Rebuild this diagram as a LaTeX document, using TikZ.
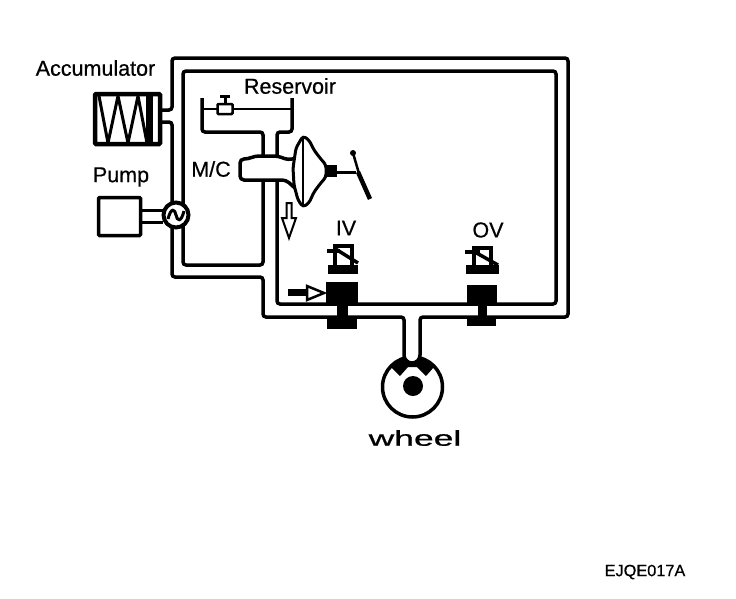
\documentclass[tikz,border=0pt]{standalone}
\usepackage{fontspec}
\newfontfamily\labelfont{Liberation Sans}[AutoFakeBold=0.6]
\usetikzlibrary{arrows.meta,positioning}

\begin{document}
\begin{tikzpicture}[
    x=1pt,
    y=-1pt,
    every node/.style={font=\fontsize{21.5}{25}\labelfont\bfseries, inner sep=0pt},
    pipe/.style={
        line width=3.5pt,
        rounded corners=3pt
    },
    casing/.style={
        rectangle,
        draw=black,
        fill=white,
        line width=3.5pt,
        rounded corners=1pt
    },
    solidpart/.style={
        fill=black,
        draw=black,
        line width=1pt
    }
]
\useasboundingbox (0,0) rectangle (736,598);

% hydraulic lines
\draw[pipe] (162,110) -- (172,110) -- (172,58) -- (568,58) -- (568,317) -- (420,317) -- (420,345);
\draw[pipe] (162,122) -- (172,122) -- (172,205);
\draw[pipe] (172,225) -- (172,277) -- (263,277) -- (263,317) -- (404,317) -- (404,345);
\draw[pipe] (183,205) -- (183,71) -- (556,71) -- (556,304) -- (277,304) -- (277,180);
\draw[pipe] (183,225) -- (183,265) -- (263,265) -- (263,180);

% accumulator
\node[casing, line width=4.5pt, minimum width=65pt, minimum height=50pt] (accum) at (127.5,119) {};
\draw[line width=3pt, line join=bevel] (99,96) -- (108,143) -- (118,96) -- (128,143) -- (138,96) -- (147,143);
\fill (146,94) rectangle (153,144);
\node (accumtext) at (95.5,68) {Accumulator};

% pump
\node[casing, minimum width=42pt, minimum height=38pt] (pump) at (119.5,216.5) {};
\draw[line width=3pt] (pump.east |- 0,210) -- (163,210);
\draw[line width=3pt] (pump.east |- 0,222) -- (163,222);
\node[circle, draw=black, fill=white, line width=4pt, minimum size=25pt] (motor) at (176,215) {};
\draw[line width=3pt] (168,219) .. controls (171,207) and (175,209) .. (176,215) .. controls (177,221) and (181,223) .. (184,211);
\node (pumptext) at (121,177) {Pump};

% reservoir
\draw[line width=3.5pt, rounded corners=3pt] (202,98) -- (202,132) -- (263,132) -- (263,157);
\draw[line width=3.5pt, rounded corners=3pt] (292,98) -- (292,132) -- (277,132) -- (277,157);
\draw[line width=2.5pt] (202,109) -- (292,109);
\node[casing, minimum width=15pt, minimum height=10pt, line width=2.5pt] (cap) at (225,109) {};
\draw[line width=3pt] (225,104) -- (225,97);
\draw[line width=3pt] (220,96) -- (230,96);
\node (restext) at (290,86) {Reservoir};

% master cylinder and booster
\draw[line width=3.5pt, fill=white, rounded corners=4pt] (296,158) -- (288,160) -- (278,156) -- (255,156) -- (248,159) -- (240,159) -- (240,180) -- (286,180) -- (296,189);
\node (mctext) at (211,169) {M/C};
\draw[line width=3pt, fill=white, rounded corners=3pt] (303,136) -- (309,140) -- (314,150) -- (320,158) -- (326,165) -- (326,177) -- (320,184) -- (314,192) -- (309,203) -- (303,207)
    -- (298,200) -- (294,185) -- (293,168) -- (296,148) -- cycle;
\draw[line width=2.5pt] (303,136) -- (303,206);
\fill (325,165) rectangle (337,177);
\draw[line width=3pt] (337,172) -- (356,172);
\draw[line width=2.5pt] (353,153) -- (360,177);
\draw[line width=4.5pt] (358,172) -- (370,199);
\fill (353,153) circle (3pt);

% flow arrows
\draw[line width=2pt, fill=white] (286.5,203) -- (291.5,203) -- (291.5,218) -- (296,218) -- (289,238) -- (282,218) -- (286.5,218) -- cycle;
\fill (288,289) rectangle (307,296);
\draw[line width=2.5pt, fill=white] (307,286) -- (324,293) -- (307,300) -- cycle;

% inlet valve
\node (ivtext) at (346,228) {IV};
\node[solidpart, minimum width=29pt, minimum height=8pt] (ivcoil) at (342.5,269) {};
\draw[line width=3.5pt] (335,265) -- (335,246) -- (352,246) -- (352,265);
\draw[line width=3.5pt] (327,251) -- (340,251);
\draw[line width=3.5pt] (334,248) -- (358,263);
\node[solidpart, minimum width=31pt, minimum height=22pt] (ivtop) at (342,293.5) {};
\node[solidpart, minimum width=10pt, minimum height=14pt] (ivstem) at (342,311) {};
\node[solidpart, minimum width=29pt, minimum height=10pt] (ivbase) at (342,323.5) {};

% outlet valve
\node (ovtext) at (488,230) {OV};
\node[solidpart, minimum width=32pt, minimum height=8pt] (ovcoil) at (482,269.5) {};
\draw[line width=3.5pt] (474,265) -- (474,248) -- (491,248) -- (491,265);
\draw[line width=3.5pt] (465,252) -- (480,252);
\draw[line width=3.5pt] (473,251) -- (498,265);
\node[solidpart, minimum width=29pt, minimum height=19pt] (ovtop) at (482,295) {};
\node[solidpart, minimum width=8pt, minimum height=14pt] (ovstem) at (482.5,311) {};
\node[solidpart, minimum width=28pt, minimum height=8pt] (ovbase) at (481.5,321.5) {};

% wheel
\node[circle, draw=black, fill=white, line width=3.5pt, minimum size=60pt] (wheel) at (412.5,387) {};
\fill (391,367) -- (400,376) -- (408,367) -- (417,367) -- (426,376) -- (434,367) arc (-40:-140:28.5) -- cycle;
\draw[line width=3.5pt, fill=white] (404,345) -- (404,355) arc (180:0:8) -- (420,345);
\node[circle, fill=black, minimum size=20pt] (hub) at (413,386) {};
\node (wheeltext) at (415,438) {\scalebox{1.65}[1]{wheel}};

\node[font=\fontsize{16.3}{19}\labelfont\bfseries] (code) at (645,572) {EJQE017A};

\end{tikzpicture}
\end{document}
